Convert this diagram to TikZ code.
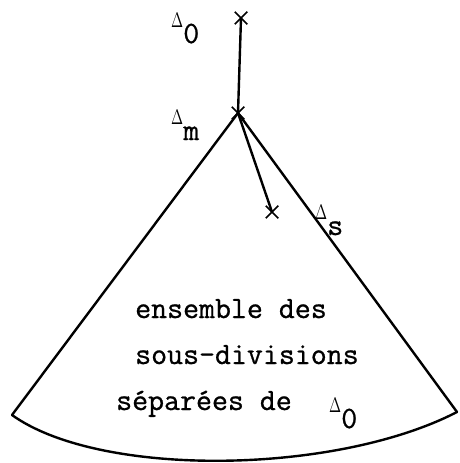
\documentclass[tikz,border=0pt]{standalone}
\usepackage[no-math]{fontspec}
\usepackage{graphicx}
\usetikzlibrary{shapes.misc}
\newfontfamily\typewr{Latin Modern Mono}[FakeBold=0.8]
\tikzset{
  conedge/.style={
    line width=2.4pt,
    line join=round,
    line cap=round
  },
  crossmark/.style={
    cross out,
    draw,
    line width=1.5pt,
    minimum size=11pt,
    inner sep=0pt
  },
  typed/.style={
    font=\typewr\fontsize{31}{37}\selectfont,
    inner sep=0pt,
    anchor=base west
  }
}
\newcommand{\dtri}{\raisebox{16pt}{\scalebox{1.45}[2.1]{\fontsize{10}{12}\selectfont$\Delta$}}}

\begin{document}
\begin{tikzpicture}[x=1pt,y=-1pt]
\useasboundingbox (0,0) rectangle (460,463);
% points of the subdivisions
\node[crossmark] (top) at (241,18) {};
\node[crossmark] (apex) at (238,113) {};
\node[crossmark] (inner) at (272,212) {};
\coordinate (lc) at (12,415);
\coordinate (rc) at (457,412);

% labels
\node[typed] (dzero) at (171,43) {\dtri 0};
\node[typed] (dm) at (171,140) {\dtri m};
\node[typed] (ds) at (315,235) {\dtri s};

\node[typed] (l1) at (135,318) {ensemble des};
\node[typed] (l2) at (135,364) {sous-divisions};
\node[typed] (l3) at (116,410) {séparées de};
\node[typed] (dzerob) at (329,428) {\dtri 0};

% the cone
\draw[conedge] (top.center) -- (apex.center);
\draw[conedge] (apex.center) -- (inner.center);
\draw[conedge] (lc) -- (apex.center) -- (rc);
\draw[conedge] (lc) .. controls (100,478) and (335,475) .. (rc);
\end{tikzpicture}
\end{document}
